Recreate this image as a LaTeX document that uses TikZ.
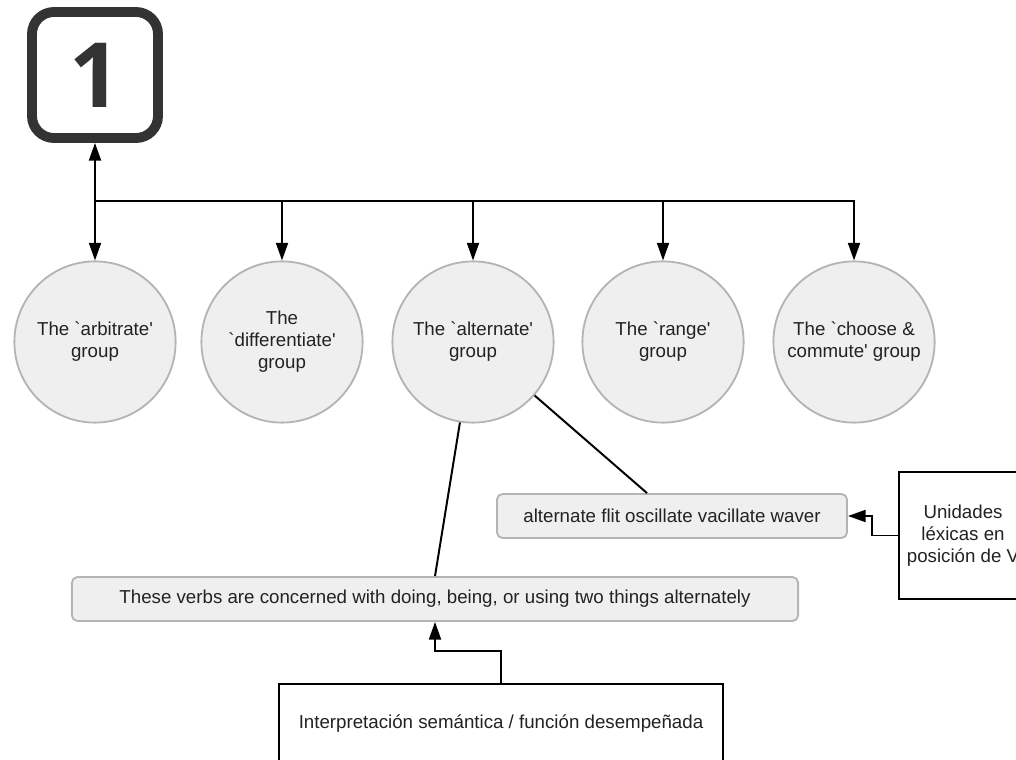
\documentclass[tikz,border=0pt]{standalone}
\usepackage{fontspec}
\usepackage{tikz}
\usetikzlibrary{arrows.meta}

\newfontfamily\lblfont{Liberation Sans}
\newfontfamily\badgefont{Open Sans}

\definecolor{fillgray}{HTML}{EFEFEF}
\definecolor{edgegray}{HTML}{B4B4B4}
\definecolor{badgegray}{HTML}{333333}
\definecolor{textgray}{HTML}{222222}

\begin{document}
\begin{tikzpicture}[x=0.025cm,y=-0.025cm,line width=1.4pt,>={Triangle[length=12.5pt,width=8.5pt]}]
	\tikzstyle{lbl}=[font=\lblfont\fontsize{13.3}{15.6}\selectfont,text=textgray,align=center]
	\tikzstyle{badge}=[draw=badgegray,line width=7pt,rounded corners=0.55cm,minimum size=3.15cm,text=badgegray,font=\badgefont\bfseries\fontsize{64}{64}\selectfont]
	\tikzstyle{group}=[lbl,draw=edgegray,fill=fillgray,line width=1.3pt,shape=circle,minimum size=4.03cm,inner sep=0pt]
	\tikzstyle{wordbox}=[lbl,draw=edgegray,fill=fillgray,line width=1.3pt,rounded corners=4pt,minimum height=1.1cm]
	\tikzstyle{note}=[lbl,draw=black,fill=white,line width=1.4pt]

	\useasboundingbox (0,0) rectangle (1016,760);
	\clip (0,0) rectangle (1016,760);

	\node[badge](one) at (95,75){1};

	\node[group](g1) at (95,342){The `arbitrate'\\group};
	\node[group](g2) at (282,342){The\\`differentiate'\\group};
	\node[group](g3) at (473,342){The `alternate'\\group};
	\node[group](g4) at (663,342){The `range'\\group};
	\node[group](g5) at (854,342){The `choose \&\\commute' group};

	\coordinate (split) at (95,201);

	\node[wordbox,minimum width=8.75cm](alt) at (672,516){alternate flit oscillate vacillate waver};
	\node[wordbox,minimum width=18.15cm](verbs) at (435,599){These verbs are concerned with doing, being, or using two things alternately};

	\node[note,minimum width=3.2cm,minimum height=3.175cm](lex) at (963,535.5){Unidades\\léxicas en\\posición de V};
	\node[note,minimum width=11.1cm,minimum height=2cm](interp) at (501,724){Interpretación semántica / función desempeñada};

	\draw[<->] (one) -- (g1);
	\foreach \g in {g2,g3,g4,g5}
		\draw[->] (split) -| (\g);

	\draw (g3) -- ([xshift=-0.625cm]alt.north);
	\draw (g3) -- (verbs.north);

	\draw[->] (lex.west) -- ++(-26,0) |- (alt);
	\draw[->] (interp.north) -- ++(0,-32) -| (verbs);

\end{tikzpicture}
\end{document}
